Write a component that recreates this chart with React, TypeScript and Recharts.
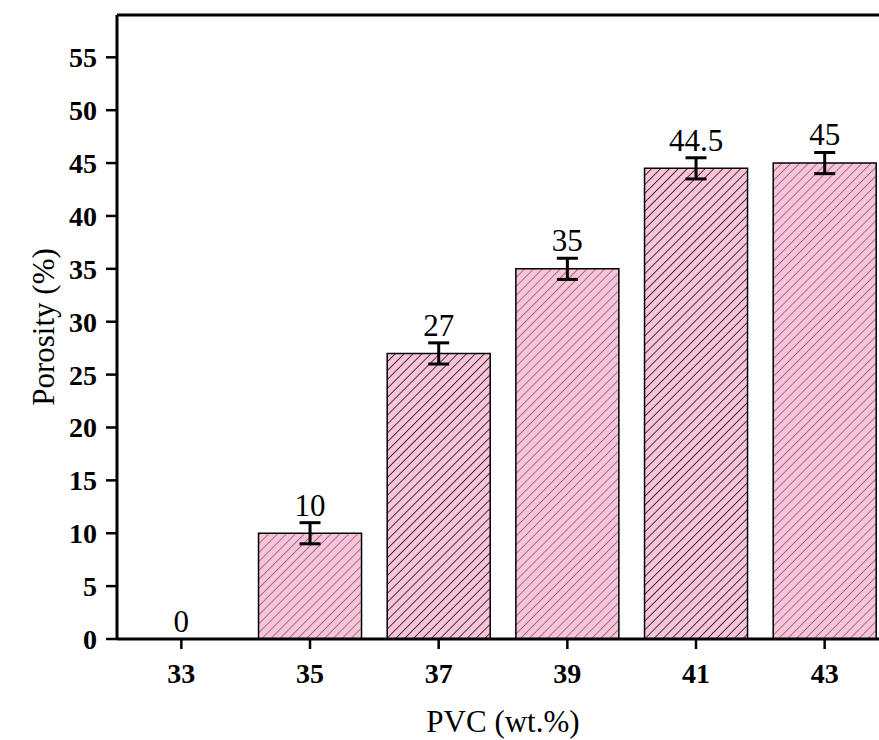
import React from "react";
import {
  ComposedChart,
  Bar,
  Line,
  XAxis,
  YAxis,
  ErrorBar,
  LabelList,
  Cell,
  ReferenceLine,
} from "recharts";

const categories = ["33", "35", "37", "39", "41", "43"];
const porosity = [0, 10, 27, 35, 44.5, 45];
const errors = [0, 1, 1, 1, 1, 1];
const yTicks = [0, 5, 10, 15, 20, 25, 30, 35, 40, 45, 50, 55];
const yMax = 59;

const data = categories.map((c, i) => ({
  pvc: c,
  porosity: porosity[i],
  err: errors[i],
  labelTop: porosity[i] + errors[i],
}));

const serif = "'Liberation Serif', 'Times New Roman', serif";
const pink = "#F9C3DA";
const hatch = 6.3;

const ValueLabel = (props: any) => {
  const { x, y, index } = props;
  return (
    <text
      x={Number(x)}
      y={Number(y) - 7}
      textAnchor="middle"
      fontFamily={serif}
      fontSize={31}
      fill="#000"
    >
      {porosity[index]}
    </text>
  );
};

const YTitle = (props: any) => {
  const vb = props.viewBox || {};
  const cy = vb.y + vb.height / 2;
  return (
    <text
      x={54}
      y={cy}
      transform={`rotate(-90, 54, ${cy})`}
      textAnchor="middle"
      fontFamily={serif}
      fontSize={31}
      fill="#000"
    >
      Porosity (%)
    </text>
  );
};

export default function App() {
  return (
    <div
      style={{
        position: "absolute",
        left: 0,
        top: 0,
        width: 879,
        height: 740,
        overflow: "hidden",
        background: "#fff",
      }}
    >
      <ComposedChart
        width={900}
        height={740}
        data={data}
        margin={{ top: 15, right: 11, bottom: 0, left: 0 }}
        barCategoryGap="10%"
      >
        <defs>
          <pattern
            id="hatchLight"
            patternUnits="userSpaceOnUse"
            width={hatch}
            height={hatch}
            patternTransform="rotate(45)"
          >
            <rect width={hatch} height={hatch} fill={pink} />
            <line x1={0} y1={0} x2={0} y2={hatch} stroke="#4a3840" strokeWidth={1.1} />
          </pattern>
          <pattern
            id="hatchDark"
            patternUnits="userSpaceOnUse"
            width={hatch}
            height={hatch}
            patternTransform="rotate(45)"
          >
            <rect width={hatch} height={hatch} fill={pink} />
            <line x1={0} y1={0} x2={0} y2={hatch} stroke="#1a1014" strokeWidth={1.6} />
          </pattern>
        </defs>
        <XAxis
          dataKey="pvc"
          height={101}
          axisLine={{ stroke: "#000", strokeWidth: 3 }}
          tickLine={{ stroke: "#000", strokeWidth: 2.5 }}
          tickSize={10}
          tickMargin={14}
          tick={{ fill: "#000", fontFamily: serif, fontSize: 28, fontWeight: "bold" }}
          label={{
            value: "PVC (wt.%)",
            position: "insideBottom",
            offset: 8,
            fill: "#000",
            fontFamily: serif,
            fontSize: 31,
          }}
        />
        <YAxis
          width={117}
          domain={[0, yMax]}
          ticks={yTicks}
          interval={0}
          axisLine={{ stroke: "#000", strokeWidth: 3 }}
          tickLine={{ stroke: "#000", strokeWidth: 2.5 }}
          tickSize={11}
          tickMargin={9}
          tick={{ fill: "#000", fontFamily: serif, fontSize: 28, fontWeight: "bold" }}
          label={<YTitle />}
        />
        <ReferenceLine y={yMax} stroke="#000" strokeWidth={3} />
        <Bar
          dataKey="porosity"
          stroke="#000"
          strokeWidth={1.5}
          isAnimationActive={false}
        >
          {data.map((d, i) => (
            <Cell
              key={d.pvc}
              fill={i % 2 === 0 ? "url(#hatchDark)" : "url(#hatchLight)"}
              stroke={d.porosity === 0 ? "none" : "#000"}
            />
          ))}
          <ErrorBar
            dataKey="err"
            width={10.5}
            stroke="#000"
            strokeWidth={3}
            direction="y"
          />
        </Bar>
        <Line
          dataKey="labelTop"
          stroke="none"
          dot={false}
          activeDot={false}
          isAnimationActive={false}
        >
          <LabelList dataKey="labelTop" content={ValueLabel} />
        </Line>
      </ComposedChart>
    </div>
  );
}
